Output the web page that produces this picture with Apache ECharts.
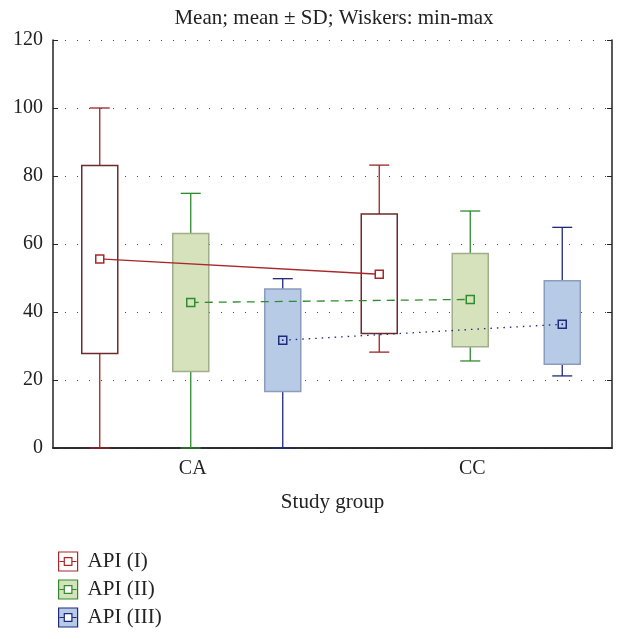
<!DOCTYPE html>
<html>
<head>
<meta charset="utf-8">
<script src="https://cdn.jsdelivr.net/npm/echarts@6/dist/echarts.min.js"></script>
<style>
  html, body { margin: 0; padding: 0; background: #fff; }
  #chart { width: 619px; height: 639px; }
</style>
</head>
<body>
<div id="chart"></div>
<script>
// categories and tick labels
const categories = ['CA', 'CC'];
const yTicks = [0, 20, 40, 60, 80, 100, 120];
const groupNames = ['API (I)', 'API (II)', 'API (III)'];

// per category: [min, mean - SD, mean, mean + SD, max]
const apiI = [[0, 27.8, 55.6, 83.1, 100], [28.2, 33.7, 51.1, 68.8, 83.2]];
const apiII = [[0, 22.5, 42.8, 63.1, 74.9], [25.6, 29.8, 43.7, 57.2, 69.7]];
const apiIII = [[0, 16.6, 31.7, 46.8, 49.8], [21.2, 24.6, 36.4, 49.2, 64.9]];

const groups = [apiI, apiII, apiIII];

// styles
const FONT = 'Liberation Serif';
const boxOffsets = [-93, -2, 90];
const boxWidth = 36;
const capWidth = 20;
const styles = [
  { whisker: '#9e2326', border: '#6e2a2a', fill: '#ffffff', mean: '#a8282a', line: 'solid' },
  { whisker: '#2e8b2e', border: '#a2ad8c', fill: '#d6e2bb', mean: '#2e8b2e', line: [8, 6] },
  { whisker: '#1f2a7c', border: '#8b9cbc', fill: '#b8cbe6', mean: '#1f2a7c', line: [1.5, 5] }
];

const chart = echarts.init(document.getElementById('chart'));

function boxRender(g) {
  const st = styles[g];
  return (params, api) => {
    const cat = api.value(0);
    const x = api.coord([cat, 0])[0] + boxOffsets[g];
    const y = v => api.coord([cat, v])[1];
    const mn = api.value(1), lo = api.value(2), hi = api.value(4), mx = api.value(5);
    const ws = { stroke: st.whisker, lineWidth: 1.3 };
    return {
      type: 'group',
      children: [
        { type: 'line', shape: { x1: x, y1: y(mx), x2: x, y2: y(hi) }, style: ws },
        { type: 'line', shape: { x1: x, y1: y(lo), x2: x, y2: y(mn) }, style: ws },
        { type: 'line', shape: { x1: x - capWidth / 2, y1: y(mx), x2: x + capWidth / 2, y2: y(mx) }, style: ws },
        { type: 'line', shape: { x1: x - capWidth / 2, y1: y(mn), x2: x + capWidth / 2, y2: y(mn) }, style: ws },
        {
          type: 'rect',
          shape: { x: x - boxWidth / 2, y: y(hi), width: boxWidth, height: y(lo) - y(hi) },
          style: { fill: st.fill, stroke: st.border, lineWidth: 1.5 }
        }
      ]
    };
  };
}

function meanRender(g) {
  const st = styles[g];
  const data = groups[g];
  return (params, api) => {
    const i = params.dataIndex;
    const pt = api.coord([i, data[i][2]]);
    const x = pt[0] + boxOffsets[g];
    const children = [];
    if (i > 0) {
      const prev = api.coord([i - 1, data[i - 1][2]]);
      children.push({
        type: 'line', z2: 0,
        shape: { x1: prev[0] + boxOffsets[g], y1: prev[1], x2: x, y2: pt[1] },
        style: { stroke: st.mean, lineWidth: 1.3, lineDash: st.line === 'solid' ? null : st.line }
      });
    }
    children.push({
      type: 'rect', z2: 10,
      shape: { x: x - 4, y: pt[1] - 4, width: 8, height: 8 },
      style: { fill: st.fill, stroke: st.mean, lineWidth: 1.5 }
    });
    if (g === 2) {
      children.push({ type: 'circle', z2: 11, shape: { cx: x, cy: pt[1], r: 0.9 }, style: { fill: st.mean } });
    }
    return { type: 'group', children };
  };
}

const series = [];
groups.forEach((d, g) => {
  series.push({
    name: groupNames[g],
    type: 'custom',
    xAxisIndex: 0,
    z: 2,
    renderItem: boxRender(g),
    encode: { x: 0, y: [1, 2, 3, 4, 5] },
    data: d.map((v, i) => [i, ...v])
  });
});
groups.forEach((d, g) => {
  series.push({
    name: groupNames[g],
    type: 'custom',
    xAxisIndex: 0,
    z: 5,
    renderItem: meanRender(g),
    encode: { x: 0, y: 1 },
    data: d.map((v, i) => [i, v[2]])
  });
});

const legendIcon = 'path://M0,0H20V20H0ZM6,6V14H14V6ZM1,10H6M14,10H19';

const option = {
  animation: false,
  title: {
    text: 'Mean; mean ± SD; Wiskers: min-max',
    left: 329,
    top: 3,
    textAlign: 'center',
    textStyle: { fontFamily: FONT, fontSize: 21, fontWeight: 'normal', color: '#222' }
  },
  grid: { left: 53, right: 7, top: 40, bottom: 191 },
  legend: {
    orient: 'vertical',
    left: 53,
    top: 546,
    itemWidth: 19,
    itemHeight: 19,
    itemGap: 7,
    textStyle: { fontFamily: FONT, fontSize: 21, color: '#222', padding: [0, 0, 0, 5] },
    data: groupNames.map((n, g) => ({
      name: n,
      icon: legendIcon,
      itemStyle: { color: styles[g].fill, borderColor: styles[g].mean, borderWidth: 1.2 }
    }))
  },
  xAxis: [
    {
      type: 'category',
      data: categories,
      name: 'Study group',
      nameLocation: 'middle',
      nameGap: 44,
      nameTextStyle: { fontFamily: FONT, fontSize: 21, color: '#222' },
      axisLine: { lineStyle: { color: '#222', width: 1.5 } },
      axisTick: { inside: true, alignWithLabel: true, length: 5, lineStyle: { color: '#222' } },
      axisLabel: { fontFamily: FONT, fontSize: 20, color: '#222', margin: 11 },
      splitLine: { show: false }
    },
    {
      type: 'category',
      data: categories,
      position: 'top',
      axisLine: { lineStyle: { color: '#222', width: 1.5 } },
      axisTick: { inside: true, alignWithLabel: true, length: 5, lineStyle: { color: '#222' } },
      axisLabel: { show: false }
    }
  ],
  yAxis: [
    {
      type: 'value',
      min: yTicks[0],
      max: yTicks[yTicks.length - 1],
      interval: 20,
      axisLine: { show: true, lineStyle: { color: '#222', width: 1.5 } },
      axisTick: { show: true, inside: true, length: 5, lineStyle: { color: '#222' } },
      axisLabel: { fontFamily: FONT, fontSize: 20, color: '#222', margin: 10 },
      splitLine: { show: true, lineStyle: { color: '#444', type: [1, 11], width: 1.2 } }
    },
    {
      type: 'value',
      position: 'right',
      min: yTicks[0],
      max: yTicks[yTicks.length - 1],
      interval: 20,
      axisLine: { show: true, lineStyle: { color: '#222', width: 1.5 } },
      axisTick: { show: true, inside: true, length: 5, lineStyle: { color: '#222' } },
      axisLabel: { show: false },
      splitLine: { show: false }
    }
  ],
  series
};

chart.setOption(option);
</script>
</body>
</html>
